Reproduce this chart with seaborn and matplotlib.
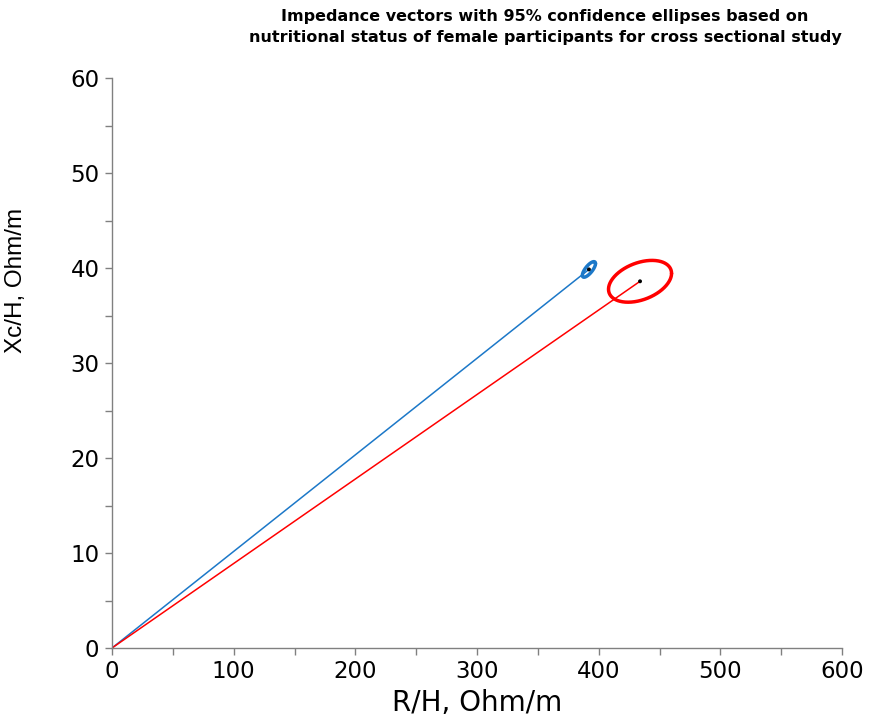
import numpy as np
import pandas as pd
import matplotlib
matplotlib.use("Agg")
import matplotlib.pyplot as plt
import seaborn as sns

# ---- data ----
groups = ["Group 1", "Group 2"]
mean_r = [392.0, 434.0]        # R/H, Ohm/m
mean_xc = [39.85, 38.6]        # Xc/H, Ohm/m
sd_r = [5.4, 25.9]             # ellipse half-extent along R
sd_xc = [0.82, 2.2]            # ellipse half-extent along Xc
corr = [0.75, 0.38]            # correlation (tilt) of each ellipse
colors = ["#1C78C8", "#FF0000"]

x_ticks = [0, 100, 200, 300, 400, 500, 600]
y_ticks = [0, 10, 20, 30, 40, 50, 60]

title = ("Impedance vectors with 95% confidence ellipses based on\n"
         "nutritional status of female participants for cross sectional study")

sns.set_style("white")
plt.rcParams["font.family"] = ["DejaVu Sans"]
plt.rcParams["text.color"] = "black"
plt.rcParams["axes.labelcolor"] = "black"
plt.rcParams["xtick.color"] = "black"
plt.rcParams["ytick.color"] = "black"

fig = plt.figure(figsize=(8.73, 7.19), dpi=100)
ax = fig.add_axes([112 / 873, 1 - 648 / 719, 730 / 873, 570 / 719])

vec = pd.DataFrame({
    "group": np.repeat(groups, 2),
    "R": np.ravel([[0.0, r] for r in mean_r]),
    "Xc": np.ravel([[0.0, x] for x in mean_xc]),
})
for g, c in zip(groups, colors):
    sns.lineplot(data=vec[vec.group == g], x="R", y="Xc", color=c, lw=1.1,
                 sort=False, estimator=None, ax=ax, legend=False)

t = np.linspace(0, 2 * np.pi, 300)
for i, (g, c) in enumerate(zip(groups, colors)):
    delta = np.arccos(corr[i])
    ell = pd.DataFrame({
        "R": mean_r[i] + sd_r[i] * np.cos(t),
        "Xc": mean_xc[i] + sd_xc[i] * np.cos(t - delta),
    })
    sns.lineplot(data=ell, x="R", y="Xc", color=c, lw=2.5, sort=False,
                 estimator=None, ax=ax, legend=False)

pts = pd.DataFrame({"R": mean_r, "Xc": mean_xc})
sns.scatterplot(data=pts, x="R", y="Xc", color="black", s=8, ax=ax,
                edgecolor="none", zorder=5)

ax.set_xlim(0, 600)
ax.set_ylim(0, 60)
ax.set_xticks(x_ticks)
ax.set_yticks(y_ticks)
ax.set_xticks(np.arange(0, 601, 50), minor=True)
ax.set_yticks(np.arange(0, 61, 5), minor=True)
ax.tick_params(axis="both", which="both", direction="out", length=5,
               width=1, color="#808080", labelsize=16.5, pad=4,
               labelcolor="black")
ax.tick_params(axis="x", which="both", bottom=True)
ax.tick_params(axis="y", which="both", left=True)
for s in ["top", "right"]:
    ax.spines[s].set_visible(False)
for s in ["left", "bottom"]:
    ax.spines[s].set_color("#808080")
    ax.spines[s].set_linewidth(1)

ax.set_xlabel("R/H, Ohm/m", fontsize=20, labelpad=4, color="black")
ax.set_ylabel("Xc/H, Ohm/m", fontsize=17.5, family=["Liberation Sans", "DejaVu Sans"],
              color="black")
ax.yaxis.set_label_coords((27 - 112) / 730, (648 - 280) / 570)

fig.text(545 / 873, 1 - 9 / 719, title, ha="center", va="top",
         fontsize=11.5, fontweight="bold", linespacing=1.5, color="black")

fig.savefig("out.png", dpi=100)
